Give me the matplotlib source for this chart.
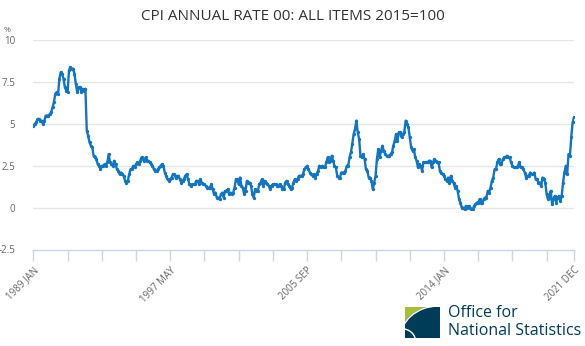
import numpy as np
import matplotlib
matplotlib.use("Agg")
import matplotlib.pyplot as plt
from matplotlib import font_manager
from matplotlib.patches import Rectangle, Circle, Arc

# CPI annual rate, monthly, 1989 JAN .. 2021 DEC
cpi_1989_1996 = [
    4.9, 5.0, 5.1, 5.3, 5.3, 5.2, 5.2, 5.0, 5.2, 5.5, 5.5, 5.5,
    5.6, 5.7, 6.0, 6.3, 6.8, 6.9, 6.8, 7.7, 8.1, 8.0, 7.7, 7.2,
    7.0, 6.9, 8.2, 8.4, 8.3, 8.3, 8.0, 7.4, 6.9, 7.2, 7.2, 6.9,
    7.1, 7.0, 7.1, 4.6, 4.3, 3.9, 3.7, 3.6, 3.1, 3.0, 2.9, 2.6,
    2.5, 2.3, 2.5, 2.5, 2.6, 2.5, 2.7, 3.2, 2.7, 2.6, 2.5, 2.8,
    2.6, 2.3, 2.2, 2.0, 2.1, 2.0, 1.9, 1.6, 1.5, 1.6, 2.0, 2.3,
    2.3, 2.5, 2.4, 2.6, 2.7, 2.6, 2.8, 3.0, 2.9, 2.8, 3.0, 2.8,
    2.8, 2.7, 2.6, 2.5, 2.3, 2.2, 2.2, 2.3, 2.4, 2.5, 2.6, 2.5,
]
cpi_1997_2004 = [
    2.1, 1.9, 1.7, 1.6, 1.7, 1.8, 2.0, 2.0, 1.8, 1.9, 1.9, 1.7,
    1.5, 1.6, 1.7, 1.9, 2.0, 1.7, 1.4, 1.3, 1.4, 1.4, 1.4, 1.6,
    1.6, 1.4, 1.7, 1.5, 1.4, 1.4, 1.3, 1.2, 1.2, 1.2, 1.4, 1.1,
    0.8, 0.9, 0.6, 0.6, 0.5, 0.8, 0.9, 0.6, 1.0, 1.0, 1.1, 0.8,
    0.9, 0.8, 0.9, 1.2, 1.7, 1.7, 1.4, 1.8, 1.3, 1.2, 0.8, 1.0,
    1.6, 1.5, 1.5, 1.3, 0.8, 0.6, 1.1, 1.0, 1.0, 1.4, 1.5, 1.7,
    1.3, 1.6, 1.5, 1.4, 1.3, 1.1, 1.3, 1.4, 1.4, 1.4, 1.3, 1.3,
    1.4, 1.3, 1.1, 1.1, 1.5, 1.6, 1.4, 1.3, 1.1, 1.2, 1.5, 1.7,
]
cpi_2005_2012 = [
    1.6, 1.7, 1.9, 1.9, 1.9, 2.0, 2.3, 2.4, 2.5, 2.3, 2.1, 2.0,
    1.9, 2.0, 1.8, 2.0, 2.2, 2.5, 2.4, 2.5, 2.4, 2.4, 2.7, 3.0,
    2.7, 2.8, 3.1, 2.8, 2.5, 2.4, 1.9, 1.8, 1.8, 2.1, 2.1, 2.1,
    2.2, 2.5, 2.5, 3.0, 3.3, 3.8, 4.4, 4.7, 5.2, 4.5, 4.1, 3.1,
    3.0, 3.2, 2.9, 2.3, 2.2, 1.8, 1.8, 1.6, 1.1, 1.5, 1.9, 2.9,
    3.5, 3.0, 3.4, 3.7, 3.4, 3.2, 3.1, 3.1, 3.1, 3.2, 3.3, 3.7,
    4.0, 4.4, 4.0, 4.5, 4.5, 4.2, 4.4, 4.5, 5.2, 5.0, 4.8, 4.2,
    3.6, 3.4, 3.5, 3.0, 2.8, 2.4, 2.6, 2.5, 2.2, 2.7, 2.7, 2.7,
]
cpi_2013_2021 = [
    2.7, 2.8, 2.8, 2.4, 2.7, 2.9, 2.8, 2.7, 2.7, 2.2, 2.1, 2.0,
    1.9, 1.7, 1.6, 1.8, 1.5, 1.9, 1.6, 1.5, 1.2, 1.3, 1.0, 0.5,
    0.3, 0.0, 0.0, -0.1, 0.1, 0.0, 0.1, 0.0, -0.1, -0.1, 0.1, 0.2,
    0.3, 0.3, 0.5, 0.3, 0.3, 0.5, 0.6, 0.6, 1.0, 0.9, 1.2, 1.6,
    1.8, 2.3, 2.3, 2.7, 2.9, 2.6, 2.6, 2.9, 3.0, 3.0, 3.1, 3.0,
    3.0, 2.7, 2.5, 2.4, 2.4, 2.4, 2.5, 2.7, 2.4, 2.4, 2.3, 2.1,
    1.8, 1.9, 1.9, 2.1, 2.0, 2.0, 2.1, 1.7, 1.7, 1.5, 1.5, 1.3,
    1.8, 1.7, 1.5, 0.8, 0.5, 0.6, 1.0, 0.2, 0.5, 0.7, 0.3, 0.6,
    0.7, 0.4, 0.7, 1.5, 2.1, 2.5, 2.0, 3.2, 3.1, 4.2, 5.1, 5.4,
]
tick_labels = ["1989 JAN", "1997 MAY", "2005 SEP", "2014 JAN", "2021 DEC"]
y_ticks = [-2.5, 0, 2.5, 5, 7.5, 10]

cpi = np.array(cpi_1989_1996 + cpi_1997_2004 + cpi_2005_2012 + cpi_2013_2021)
months = np.arange(len(cpi))

names = {f.name for f in font_manager.fontManager.ttflist}
base_font = "Open Sans" if "Open Sans" in names else "DejaVu Sans"
logo_font = "Liberation Sans Narrow" if "Liberation Sans Narrow" in names else base_font
plt.rcParams["font.family"] = [base_font, "DejaVu Sans"]

W, H = 585, 346
fig = plt.figure(figsize=(W / 100, H / 100), dpi=100)
ax = fig.add_axes([33.4 / W, 1 - 249.5 / H, (574 - 33.4) / W, (249.5 - 40.3) / H])

line_col = "#1474be"
ax.plot(months, cpi, color=line_col, lw=1.7, marker="o", ms=2.4, mew=0, zorder=3)

ax.set_xlim(0, len(cpi) - 1)
ax.set_ylim(-2.5, 10)
for s in ["top", "right", "left"]:
    ax.spines[s].set_visible(False)
ax.spines["bottom"].set_color("#ccd6eb")
ax.spines["bottom"].set_linewidth(1)

for y in y_ticks[1:]:
    ax.axhline(y, color="#e6e6e6", lw=1, zorder=1)

ax.set_yticks(y_ticks)
ax.set_yticklabels(["-2.5", "0", "2.5", "5", "7.5", "10"])
ax.tick_params(axis="y", length=0, pad=13, labelsize=7, labelcolor="#666666")

major = [0, 100, 200, 300, len(cpi) - 1]
minor = [m for m in range(0, len(cpi), 25) if m not in major]
ax.set_xticks(major)
ax.set_xticks(minor, minor=True)
ax.set_xticklabels(tick_labels, rotation=45, ha="right", va="top",
                   rotation_mode="anchor")
ax.tick_params(axis="x", which="both", length=8, width=1, color="#ccd6eb",
               labelsize=7, labelcolor="#666666", pad=3)

fig.text(0.5, 1 - 16 / H, "CPI ANNUAL RATE 00: ALL ITEMS 2015=100",
         ha="center", va="center", fontsize=11, color="#333333")
fig.text(4 / W, 1 - 30 / H, "%", ha="left", va="center", fontsize=6,
         color="#666666")

# ONS logo
lax = fig.add_axes([405 / W, 1 - 338 / H, 35 / W, 31 / H])
lax.set_xlim(0, 1)
lax.set_ylim(0, 1)
lax.axis("off")
lax.add_patch(Rectangle((0, 0), 1, 1, color="#a8bd3a"))
lax.add_patch(Circle((0.95, -0.07), 1.1, color="#003c57"))
lax.add_patch(Arc((0.95, -0.07), 2.2, 2.2, color="white", lw=1))
lax.add_patch(Arc((-0.1, -0.1), 0.8, 0.8, theta1=0, theta2=90, color="white", lw=1))

fig.text(448 / W, 1 - 317 / H, "Office for", family=[logo_font, "DejaVu Sans"],
         fontsize=11.5, color="#003c57", ha="left", va="baseline")
fig.text(448 / W, 1 - 335 / H, "National Statistics", family=[logo_font, "DejaVu Sans"],
         fontsize=11.5, color="#003c57", ha="left", va="baseline")

fig.savefig("out.png", dpi=100)
